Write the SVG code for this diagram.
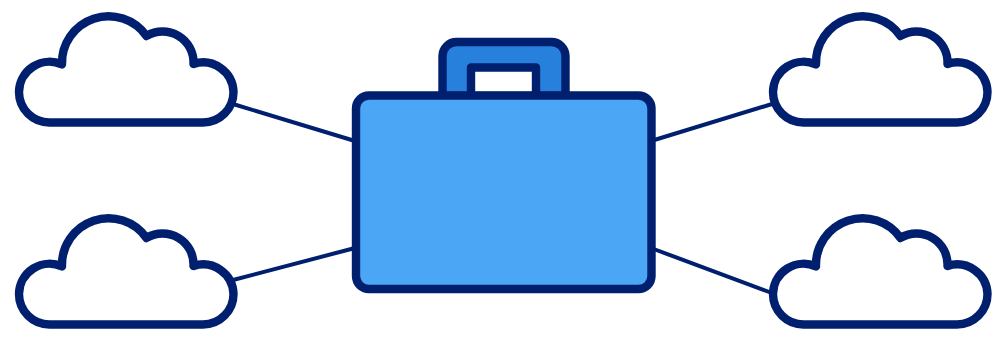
<svg xmlns="http://www.w3.org/2000/svg" width="992" height="340" viewBox="0 0 992 340">
<style>
.o{stroke:#001f6f;stroke-width:8.400;stroke-linejoin:round;stroke-linecap:round}
.c{stroke:#001f6f;stroke-width:4;fill:none}
</style>
<defs>
<path id="cloud" class="o" fill="#fff" d="M50 122.500H203A30.500 30.500 0 0 0 233.500 92A30.500 30.500 0 0 0 193.500 64A31 31 0 0 0 146.500 36A46.500 46.500 0 0 0 62 64.500A30.500 30.500 0 0 0 19 92A30.500 30.500 0 0 0 50 122.500Z"/>
</defs>
<rect width="992" height="340" fill="#fff"/>
<g id="connectors">
<path class="c" d="M233 104L355 141M233 280L355 248M772 104L651 141M772 293L651 248"/>
</g>
<g id="cloud-top-left"><use href="#cloud"/></g>
<g id="cloud-top-right"><use href="#cloud" x="754"/></g>
<g id="cloud-bottom-left"><use href="#cloud" y="202"/></g>
<g id="cloud-bottom-right"><use href="#cloud" x="754" y="202"/></g>
<g id="briefcase">
<path class="o" fill="#2680dc" d="M442.500 96V56A14 14 0 0 1 456.500 42H551.500A14 14 0 0 1 565.500 56V96Z"/>
<path class="o" fill="#fff" d="M471 96V67.500H536V96Z"/>
<rect class="o" fill="#4ba6f5" x="356" y="95.500" width="295.500" height="193.500" rx="13"/>
</g>
</svg>
